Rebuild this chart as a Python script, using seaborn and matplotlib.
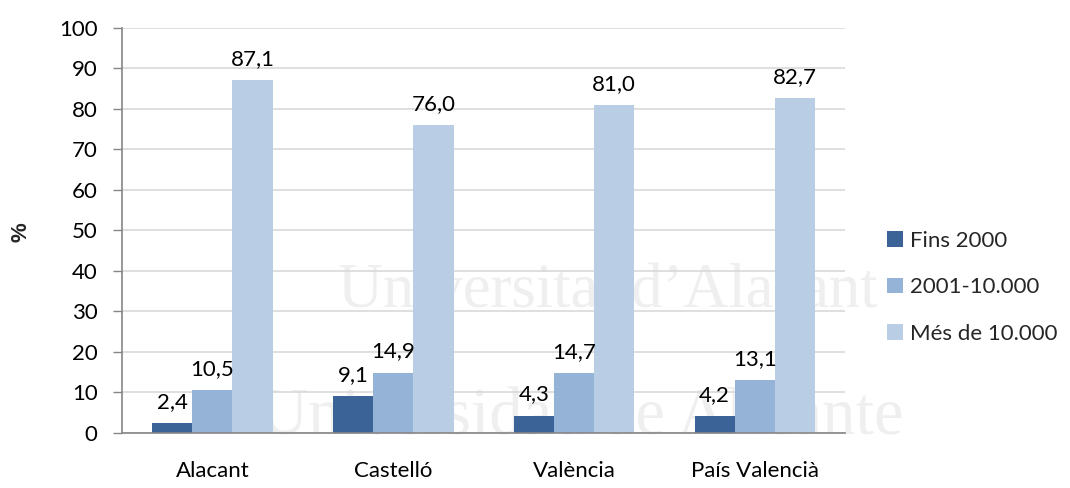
import pandas as pd
import matplotlib.pyplot as plt
import seaborn as sns

regions = ["Alacant", "Castelló", "València", "País Valencià"]
series = ["Fins 2000", "2001-10.000", "Més de 10.000"]
fins_2000 = [2.4, 9.1, 4.3, 4.2]
mid_size = [10.5, 14.9, 14.7, 13.1]
large = [87.1, 76.0, 81.0, 82.7]
colors = ["#3C6397", "#95B3D7", "#B9CDE5"]

df = pd.DataFrame({
    "region": regions * 3,
    "serie": [s for s in series for _ in regions],
    "pct": fins_2000 + mid_size + large,
})

sns.set_theme(style="white")
plt.rcParams["font.family"] = ["Lato", "DejaVu Sans"]

fig = plt.figure(figsize=(10.7, 4.88), dpi=100)
ax = fig.add_axes([0.114, 0.1127, 0.676, 0.830])
ax.patch.set_alpha(0)
ax.set_zorder(1)

# faint watermark of the source document, behind the plot
wm = dict(family="Liberation Serif", color="#EFEFEF", ha="center", va="baseline",
          transform=fig.transFigure, zorder=-5)
fig.text(0.568, 0.37, "Universitat d’Alacant", fontsize=45, **wm)
fig.text(0.544, 0.11, "Universidad de Alicante", fontsize=48, **wm)

sns.barplot(data=df, x="region", y="pct", hue="serie", palette=colors,
            width=0.667, gap=0, ax=ax, zorder=2, saturation=1, linewidth=0)

for cont in ax.containers:
    labels = [f"{v:.1f}".replace(".", ",") for v in cont.datavalues]
    ax.bar_label(cont, labels=labels, padding=8, fontsize=16, color="#000000")

ax.set_ylim(0, 100)
ax.set_yticks(range(0, 101, 10))
ax.set_xlim(-0.5, 3.5)
ax.yaxis.grid(True, color="#D9D9D9", linewidth=1.2, zorder=0)
ax.set_axisbelow(True)
ax.set_xlabel("")
ax.set_ylabel("%", fontsize=16, fontweight="bold", family="Liberation Sans")
ax.yaxis.set_label_coords(-0.125, 0.496)
ax.tick_params(axis="both", labelsize=16, colors="#000000", length=6.5,
               width=1, direction="out", left=True, bottom=False)
ax.tick_params(axis="y", color="#868686", pad=11)
ax.tick_params(axis="x", pad=14)
for side in ["top", "right"]:
    ax.spines[side].set_visible(False)
for side in ["left", "bottom"]:
    ax.spines[side].set_color("#868686")
    ax.spines[side].set_linewidth(1.2)

handles, lbls = ax.get_legend_handles_labels()
ax.legend(handles, lbls, loc="center left", bbox_to_anchor=(1.03, 0.36),
          frameon=False, fontsize=16, handlelength=0.7, handleheight=0.7,
          handletextpad=0.35, labelspacing=1.2)

fig.savefig("out.png", dpi=100)
